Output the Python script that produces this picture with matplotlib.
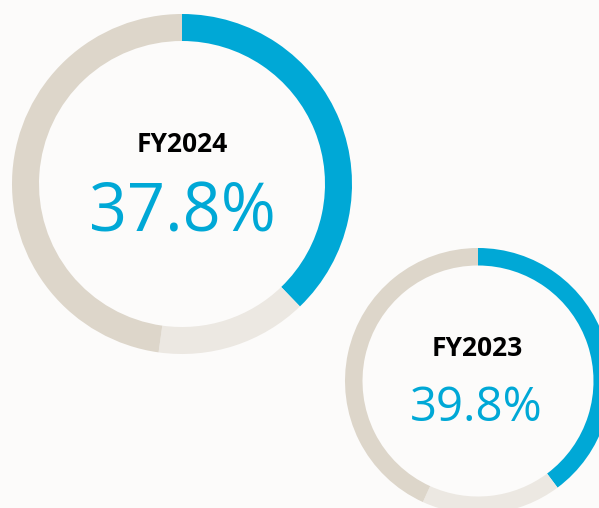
import matplotlib
matplotlib.use("Agg")
import matplotlib.pyplot as plt

# share of each ring: highlighted value, lighter segment, rest
years = ["FY2024", "FY2023"]
shares = [37.8, 39.8]
light_part = [14.4, 17.0]
labels = ["37.8%", "39.8%"]

blue = "#00a8d6"
beige = "#ddd6ca"
pale = "#ece8e2"
bg = "#fcfbfa"

W, H = 599, 508
fig = plt.figure(figsize=(W / 100, H / 100), dpi=100, facecolor=bg)
ax = fig.add_axes([0, 0, 1, 1])
ax.set_facecolor(bg)

# donut centres / radii in pixels (y from top)
rings = [(182, 184, 170, 27), (478, 381, 133, 17.5)]

for i in range(len(years)):
    cx, cy, r, w = rings[i]
    vals = [shares[i], light_part[i], 100 - shares[i] - light_part[i]]
    ax.pie(vals, colors=[blue, pale, beige], startangle=90, counterclock=False,
           center=(cx, H - cy), radius=r,
           wedgeprops=dict(width=w, edgecolor="none", linewidth=0))

ax.text(182, H - 145, years[0], ha="center", va="center", fontsize=19,
        fontweight="bold", family="Open Sans", color="black")
ax.text(182, H - 214, labels[0], ha="center", va="center", fontsize=48,
        fontweight="normal", family="Open Sans", color=blue)
ax.text(477, H - 348, years[1], ha="center", va="center", fontsize=19,
        fontweight="bold", family="Open Sans", color="black")
ax.text(476, H - 408, labels[1], ha="center", va="center", fontsize=34,
        fontweight="normal", family="Open Sans", color=blue)

ax.set_xlim(0, W)
ax.set_ylim(0, H)
ax.set_aspect("auto")
ax.axis("off")

fig.savefig("out.png", dpi=100, facecolor=bg)
